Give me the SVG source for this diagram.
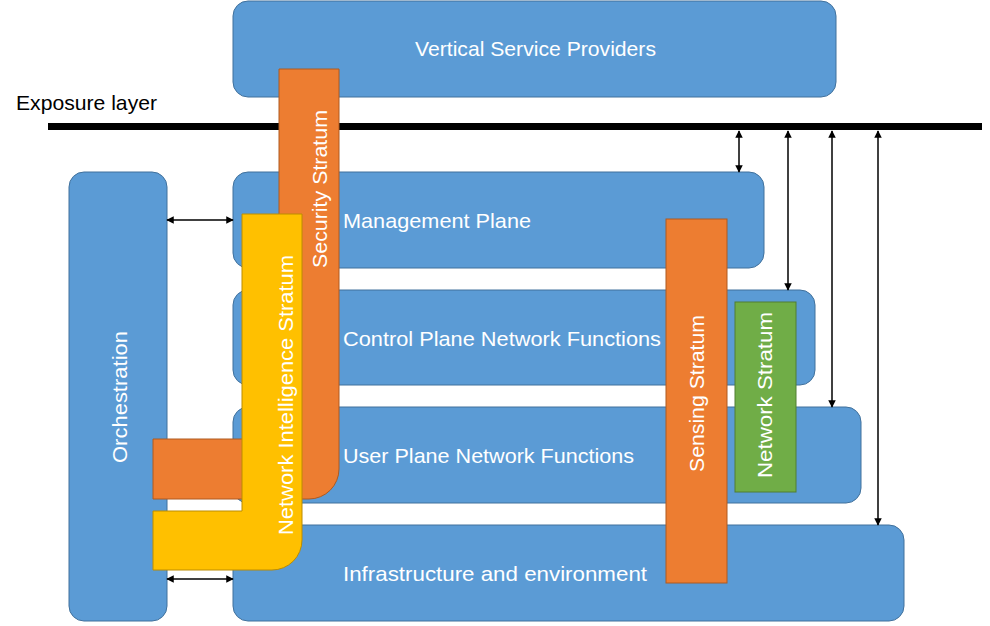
<svg xmlns="http://www.w3.org/2000/svg" width="990" height="626" viewBox="0 0 990 626">
<defs>
<style>
.blue{fill:#5B9BD5;stroke:#41719C;stroke-width:1}
.orange{fill:#ED7D31;stroke:#AE5A21;stroke-width:1}
.yellow{fill:#FFC000;stroke:#BC8C00;stroke-width:1}
.green{fill:#70AD47;stroke:#507E32;stroke-width:1}
.lbl{font-family:"Liberation Sans",Arial,sans-serif;font-size:21px;fill:#FFFFFF}
.blk{font-family:"Liberation Sans",Arial,sans-serif;font-size:21px;fill:#000000}
.arr{stroke:#000;stroke-width:1.5;fill:none;marker-start:url(#ah);marker-end:url(#ah)}
</style>
<marker id="ah" viewBox="0 0 10 10" refX="9" refY="5" markerWidth="5" markerHeight="5" orient="auto-start-reverse" markerUnits="strokeWidth">
<path d="M0,0 L10,5 L0,10 Z" fill="#000"/>
</marker>
</defs>
<rect width="990" height="626" fill="#FFFFFF"/>
<g id="vertical-service-providers">
<rect class="blue" x="233" y="1" width="603" height="96" rx="15"/>
<text class="lbl" x="415" y="56" textLength="241" lengthAdjust="spacingAndGlyphs">Vertical Service Providers</text>
</g>
<g id="exposure-layer">
<rect x="48" y="123" width="934" height="7" fill="#000"/>
<text class="blk" x="16" y="110" textLength="141" lengthAdjust="spacingAndGlyphs">Exposure layer</text>
</g>
<g id="orchestration">
<rect class="blue" x="69" y="172" width="98" height="449" rx="15"/>
<text class="lbl" transform="translate(127,463) rotate(-90)" textLength="132" lengthAdjust="spacingAndGlyphs">Orchestration</text>
</g>
<g id="management-plane">
<rect class="blue" x="233" y="172" width="531" height="96" rx="15"/>
<text class="lbl" x="343" y="228" textLength="188" lengthAdjust="spacingAndGlyphs">Management Plane</text>
</g>
<g id="control-plane">
<rect class="blue" x="233" y="290" width="582" height="95" rx="15"/>
<text class="lbl" x="343" y="346" textLength="318" lengthAdjust="spacingAndGlyphs">Control Plane Network Functions</text>
</g>
<g id="user-plane">
<rect class="blue" x="233" y="407" width="628" height="96" rx="15"/>
<text class="lbl" x="343" y="463" textLength="291" lengthAdjust="spacingAndGlyphs">User Plane Network Functions</text>
</g>
<g id="infrastructure">
<rect class="blue" x="233" y="525" width="671" height="96" rx="15"/>
<text class="lbl" x="343" y="581" textLength="304" lengthAdjust="spacingAndGlyphs">Infrastructure and environment</text>
</g>
<g id="security-stratum">
<path class="orange" d="M279,69 H339 V469 A30,30 0 0 1 309,499 H153 V439 H279 Z"/>
<text class="lbl" transform="translate(327,268) rotate(-90)" textLength="158" lengthAdjust="spacingAndGlyphs">Security Stratum</text>
</g>
<g id="network-intelligence-stratum">
<path class="yellow" d="M242,214 H302 V540 A30,30 0 0 1 272,570 H153 V511 H242 Z"/>
<text class="lbl" transform="translate(293,535) rotate(-90)" textLength="280" lengthAdjust="spacingAndGlyphs">Network Intelligence Stratum</text>
</g>
<g id="sensing-stratum">
<rect class="orange" x="666" y="219" width="61" height="364"/>
<text class="lbl" transform="translate(704,472) rotate(-90)" textLength="157" lengthAdjust="spacingAndGlyphs">Sensing Stratum</text>
</g>
<g id="network-stratum">
<rect class="green" x="735" y="302" width="61" height="190"/>
<text class="lbl" transform="translate(772,478) rotate(-90)" textLength="166" lengthAdjust="spacingAndGlyphs">Network Stratum</text>
</g>
<g id="connectors">
<line class="arr" x1="739" y1="131" x2="739" y2="172"/>
<line class="arr" x1="788" y1="131" x2="788" y2="290"/>
<line class="arr" x1="832" y1="131" x2="832" y2="407"/>
<line class="arr" x1="878" y1="131" x2="878" y2="525"/>
<line class="arr" x1="167" y1="220" x2="233" y2="220"/>
<line class="arr" x1="167" y1="579" x2="233" y2="579"/>
</g>
</svg>
